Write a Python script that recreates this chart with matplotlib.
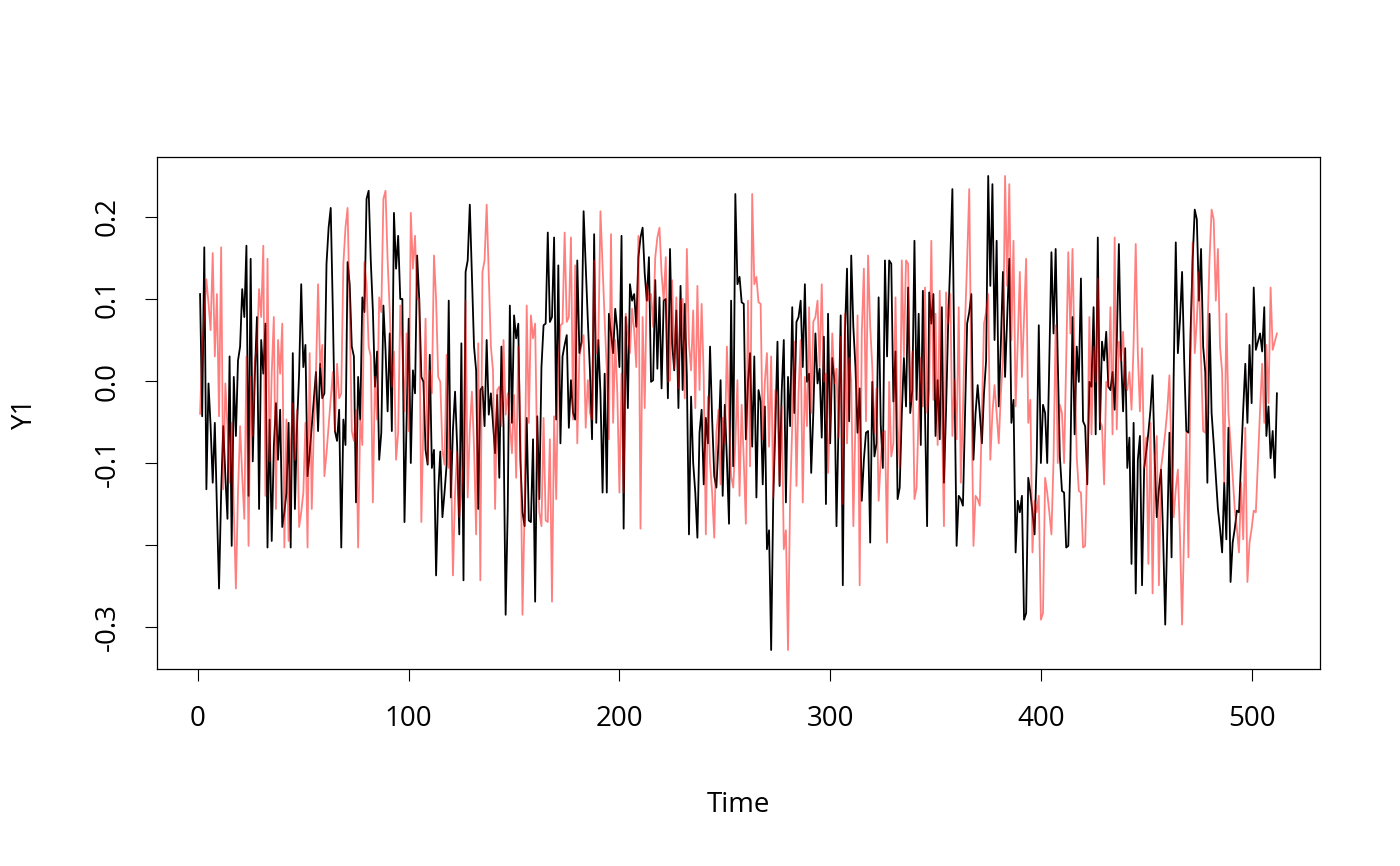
import matplotlib.pyplot as plt
import numpy as np

plt.rcParams['font.family'] = ['Open Sans', 'DejaVu Sans']

x_ticks = [0, 100, 200, 300, 400, 500]
y_ticks = [-0.3, -0.2, -0.1, 0.0, 0.1, 0.2]
y_tick_labels = ['-0.3', '', '-0.1', '0.0', '0.1', '0.2']

# Y1, t = 1..512
y1 = [
    # 1-43
    0.106, -0.043, 0.163, -0.132, -0.003, -0.055, -0.124, -0.051, -0.156, -0.253,
    -0.136, -0.055, -0.116, -0.168, 0.030, -0.201, 0.005, -0.067, 0.025, 0.042,
    0.112, 0.078, 0.165, -0.140, 0.149, -0.098, 0.009, 0.078, -0.156, 0.050,
    0.009, 0.070, -0.203, -0.047, -0.195, -0.080, -0.027, -0.096, -0.035, -0.178,
    -0.160, -0.136, -0.051,
    # 44-91
    -0.203, 0.034, -0.156, -0.055, 0.009, 0.118, 0.017, 0.044, -0.116, -0.088,
    -0.055, -0.023, 0.011, -0.061, 0.021, -0.021, -0.015, 0.143, 0.187, 0.211,
    0.086, -0.061, -0.073, -0.035, -0.203, -0.047, -0.078, 0.145, 0.118, 0.042,
    0.030, -0.148, 0.005, -0.047, 0.102, 0.084, 0.222, 0.232, 0.147, 0.086,
    -0.007, 0.036, -0.096, -0.063, 0.092, 0.038, -0.037, 0.058,
    # 92-138
    -0.061, 0.205, 0.137, 0.177, 0.100, 0.100, -0.172, -0.047, 0.076, -0.100,
    0.013, -0.015, 0.153, 0.100, 0.005, -0.001, -0.084, -0.102, 0.032, -0.106,
    -0.084, -0.237, -0.136, -0.086, -0.166, -0.136, -0.102, 0.098, -0.142, -0.059,
    -0.013, -0.080, -0.187, 0.046, -0.243, 0.133, 0.147, 0.215, 0.127, 0.042,
    0.013, -0.156, -0.011, -0.007, -0.055, 0.050, -0.041,
    # 139-186
    -0.015, -0.051, -0.088, -0.017, -0.118, 0.042, -0.055, -0.285, -0.156, 0.092,
    -0.051, 0.080, 0.052, 0.070, -0.096, -0.160, -0.177, -0.045, -0.170, -0.172,
    -0.071, -0.269, -0.043, -0.144, 0.017, 0.068, 0.070, 0.181, 0.072, 0.078,
    0.175, -0.047, 0.141, -0.076, 0.030, 0.044, 0.056, -0.057, 0.001, -0.039,
    -0.047, 0.147, 0.034, 0.048, 0.207, 0.139, 0.074, 0.013,
    # 187-233
    -0.071, 0.179, -0.051, 0.050, -0.015, -0.136, 0.009, -0.136, 0.082, 0.058,
    0.034, 0.088, 0.062, 0.017, 0.177, -0.180, 0.078, -0.033, 0.118, 0.098,
    0.106, 0.066, 0.151, 0.175, 0.187, 0.131, 0.098, 0.151, -0.001, 0.001,
    0.123, 0.015, 0.102, -0.009, 0.098, 0.100, -0.021, 0.161, 0.046, 0.013,
    0.086, -0.033, 0.116, -0.011, 0.094, 0.005, -0.187,
    # 234-281
    -0.019, -0.100, -0.136, -0.191, -0.063, -0.035, -0.126, -0.045, -0.076, 0.042,
    -0.047, -0.116, -0.130, -0.076, 0.001, -0.140, -0.029, -0.096, -0.174, 0.098,
    -0.104, 0.228, 0.118, 0.127, 0.096, 0.094, -0.071, -0.001, 0.034, -0.080,
    0.030, -0.142, -0.011, -0.025, -0.126, -0.031, -0.205, -0.182, -0.328, -0.142,
    -0.055, 0.048, -0.128, -0.013, 0.050, -0.148, 0.005, -0.055,
    # 282-328
    0.090, -0.039, 0.072, 0.078, 0.098, 0.017, 0.118, -0.001, 0.009, -0.112,
    -0.039, 0.058, -0.003, 0.015, -0.069, 0.054, -0.150, 0.082, -0.076, 0.028,
    0.001, -0.177, -0.047, 0.080, -0.249, 0.058, 0.137, -0.049, 0.153, 0.066,
    0.017, -0.063, -0.009, -0.146, -0.096, -0.063, -0.061, -0.197, -0.001, -0.092,
    -0.076, 0.102, -0.053, -0.106, 0.147, 0.030, 0.147,
    # 329-376
    0.143, -0.025, 0.036, -0.144, -0.130, -0.039, 0.028, -0.031, 0.114, -0.039,
    -0.011, 0.171, -0.023, 0.082, -0.078, 0.110, -0.039, -0.177, 0.108, 0.070,
    0.106, -0.067, 0.001, -0.071, 0.090, -0.124, -0.035, 0.070, 0.147, 0.234,
    0.001, -0.201, -0.140, -0.144, -0.152, -0.039, 0.070, 0.084, 0.106, -0.096,
    -0.039, -0.005, -0.039, -0.076, -0.015, 0.025, 0.250, 0.116,
    # 377-423
    0.240, 0.050, 0.171, -0.031, 0.046, 0.133, 0.005, 0.078, 0.149, -0.051,
    -0.023, -0.209, -0.146, -0.160, -0.140, -0.291, -0.283, -0.118, -0.136, -0.160,
    -0.187, -0.096, 0.068, -0.100, -0.029, -0.039, -0.100, 0.025, 0.157, 0.058,
    0.161, 0.025, -0.092, -0.134, -0.136, -0.203, -0.201, -0.096, 0.078, -0.065,
    0.042, -0.001, 0.125, -0.049, -0.055, -0.126, -0.001,
    # 424-471
    -0.007, 0.090, -0.065, 0.175, -0.059, 0.048, 0.025, 0.060, -0.007, -0.011,
    0.011, -0.035, 0.046, 0.167, 0.034, -0.037, 0.040, -0.106, -0.069, -0.223,
    -0.051, -0.259, -0.096, -0.067, -0.249, -0.106, -0.086, -0.063, -0.035, 0.007,
    -0.096, -0.166, -0.132, -0.108, -0.189, -0.297, -0.177, -0.063, -0.215, 0.005,
    0.169, 0.034, 0.074, 0.133, 0.025, -0.061, -0.063, 0.058,
    # 472-512
    0.147, 0.209, 0.197, 0.098, 0.161, 0.042, 0.011, -0.124, 0.082, -0.039,
    -0.076, -0.116, -0.156, -0.180, -0.209, -0.124, -0.193, -0.057, -0.245, -0.197,
    -0.180, -0.158, -0.160, -0.096, -0.035, 0.021, -0.051, 0.044, -0.027, 0.114,
    0.038, 0.048, 0.058, 0.036, 0.090, -0.067, -0.031, -0.094, -0.061, -0.118,
    -0.015,
]

# the red trace is the same path delayed by 8 steps; its first 8 points read separately
lag_head = [-0.040, 0.040, 0.080, 0.124, 0.095, 0.062, 0.156, 0.030]
y1_lag = lag_head + y1[:-8]

t = np.arange(1, len(y1) + 1)

fig = plt.figure(figsize=(14, 8.66), dpi=100)
ax = fig.add_axes([0.11214, 0.22748, 0.83071, 0.59122])

ax.plot(t, y1, color='black', lw=1.3)
ax.plot(t, y1_lag, color='red', alpha=0.5, lw=1.3)

# R style 4% padding around the data
lo = min(min(y1), min(y1_lag))
hi = max(max(y1), max(y1_lag))
pad = 0.04 * (hi - lo)
ax.set_ylim(lo - pad, hi + pad)
ax.set_xlim(1 - 0.04 * 511, 512 + 0.04 * 511)

ax.set_xticks(x_ticks)
ax.set_xticklabels([str(v) for v in x_ticks])
ax.set_yticks(y_ticks)
ax.set_yticklabels(y_tick_labels, rotation=90, va='center')
ax.tick_params(direction='out', length=8.6, width=0.8, labelsize=20, pad=17)
for s in ax.spines.values():
    s.set_linewidth(0.9)

fig.text(0.5275, 1 - 805 / 866, 'Time', ha='center', va='center', fontsize=20)
fig.text(25 / 1400, 1 - 413 / 866, 'Y1', ha='center', va='center', rotation=90, fontsize=20)

fig.savefig('out.png', dpi=100)
